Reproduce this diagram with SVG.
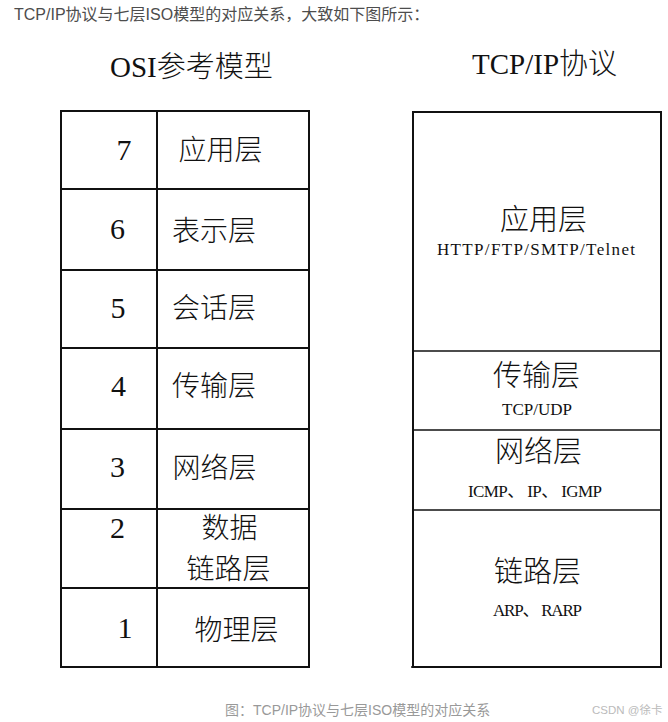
<svg xmlns="http://www.w3.org/2000/svg" width="668" height="722" viewBox="0 0 668 722">
<style>
.intro{font-family:"Liberation Sans","Noto Sans CJK SC",sans-serif;font-size:16px;fill:#4d4d4d}
.title{font-family:"Liberation Serif","Noto Sans CJK SC",serif;font-size:29px;fill:#111;font-weight:300}
.num{font-family:"Liberation Serif",serif;font-size:30px;fill:#111;text-anchor:middle}
.cn{font-family:"Noto Sans CJK SC",sans-serif;font-size:28px;fill:#111;text-anchor:middle;font-weight:300}
.cnr{font-family:"Noto Sans CJK SC",sans-serif;font-size:29px;fill:#111;text-anchor:middle;font-weight:300}
.proto{font-family:"Liberation Serif","Noto Sans CJK SC",serif;font-size:17px;fill:#111;text-anchor:middle}
.box{fill:#fff;stroke:#111;stroke-width:2}
.line{stroke:#111;stroke-width:2}
.rline{stroke:#111;stroke-width:1.6}
.cap{font-family:"Liberation Sans","Noto Sans CJK SC",sans-serif;font-size:14px;fill:#999}
.wm{font-family:"Liberation Sans","Noto Sans CJK SC",sans-serif;font-size:11.5px;fill:#bbb}
</style>
<rect width="668" height="722" fill="#fff"/>
<text class="intro" x="14" y="20">TCP/IP协议与七层ISO模型的对应关系，大致如下图所示：</text>
<text class="title" x="110" y="77">OSI参考模型</text>
<text class="title" x="472" y="74">TCP/IP协议</text>

<g id="osi-table">
<rect class="box" x="61" y="111" width="248" height="556"/>
<line class="line" x1="157" y1="111" x2="157" y2="667"/>
<line class="line" x1="61" y1="189" x2="309" y2="189"/>
<line class="line" x1="61" y1="270" x2="309" y2="270"/>
<line class="line" x1="61" y1="348" x2="309" y2="348"/>
<line class="line" x1="61" y1="429" x2="309" y2="429" stroke-width="2.5"/>
<line class="line" x1="61" y1="509" x2="309" y2="509"/>
<line class="line" x1="61" y1="588" x2="309" y2="588"/>
</g>
<g id="osi-7"><text class="num" x="124" y="160">7</text><text class="cn" x="220.5" y="159.5">应用层</text></g>
<g id="osi-6"><text class="num" x="117.5" y="239">6</text><text class="cn" x="214" y="240.5">表示层</text></g>
<g id="osi-5"><text class="num" x="118" y="318">5</text><text class="cn" x="214" y="317.5">会话层</text></g>
<g id="osi-4"><text class="num" x="118.5" y="396">4</text><text class="cn" x="214" y="395.5">传输层</text></g>
<g id="osi-3"><text class="num" x="117.5" y="477">3</text><text class="cn" x="214.5" y="478">网络层</text></g>
<g id="osi-2"><text class="num" x="117.5" y="538">2</text><text class="cn" x="229.5" y="538">数据</text><text class="cn" x="228.5" y="579">链路层</text></g>
<g id="osi-1"><text class="num" x="125" y="638">1</text><text class="cn" x="236.5" y="640">物理层</text></g>

<g id="tcpip-table">
<rect class="box" x="413" y="112" width="248" height="555" stroke-width="1.6"/>
<line class="rline" x1="413" y1="351" x2="661" y2="351"/>
<line class="rline" x1="413" y1="430" x2="661" y2="430" stroke-width="2.2"/>
<line class="rline" x1="413" y1="510" x2="661" y2="510" stroke-width="2.2"/>
<line class="rline" x1="411" y1="667" x2="660" y2="667" stroke-width="3"/>
</g>
<g id="tcp-app"><text class="cnr" x="543.5" y="229.5">应用层</text><text class="proto" x="536" y="255" textLength="198" lengthAdjust="spacing">HTTP/FTP/SMTP/Telnet</text></g>
<g id="tcp-transport"><text class="cnr" x="536.5" y="385.5">传输层</text><text class="proto" x="537" y="415" textLength="70" lengthAdjust="spacing">TCP/UDP</text></g>
<g id="tcp-network"><text class="cnr" x="538.5" y="461.5">网络层</text><text class="proto" x="535" y="497" textLength="134" lengthAdjust="spacing">ICMP、 IP、 IGMP</text></g>
<g id="tcp-link"><text class="cnr" x="537.5" y="581.5">链路层</text><text class="proto" x="537.5" y="616" textLength="89" lengthAdjust="spacing">ARP、 RARP</text></g>

<text class="cap" x="225" y="715">图：TCP/IP协议与七层ISO模型的对应关系</text>
<text class="wm" x="592" y="714">CSDN @徐卡</text>
</svg>
